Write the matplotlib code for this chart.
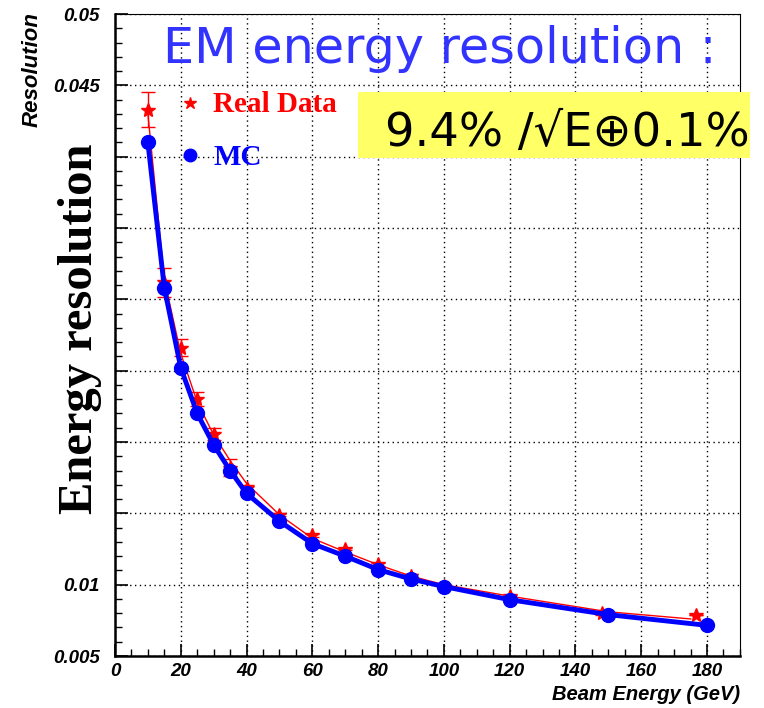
import numpy as np
import matplotlib
matplotlib.use('Agg')
import matplotlib.pyplot as plt
import matplotlib.ticker as ticker
from matplotlib.patches import Rectangle

# beam energies and resolution
mc_energy = [10, 15, 20, 25, 30, 35, 40, 50, 60, 70, 80, 90, 100, 120, 150, 180]
mc_res = [0.0410, 0.0308, 0.0252, 0.0220, 0.0198, 0.0180, 0.0164, 0.01445, 0.01288,
          0.0120, 0.01106, 0.0104, 0.00987, 0.00895, 0.0079, 0.00715]

data_energy = [10, 15, 20, 25, 30, 35, 40, 50, 60, 70, 80, 90, 100, 120, 148, 176.5]
data_res = [0.0433, 0.0312, 0.0266, 0.0230, 0.02055, 0.0182, 0.0168, 0.01492, 0.01346,
            0.0125, 0.01143, 0.01064, 0.0099, 0.0092, 0.0080, 0.00785]
data_err = [0.0012, 0.0010, 0.0006, 0.0005, 0.0004, 0.0006, 0.0002, 0.0001, 0.0001,
            0.0001, 0.0001, 0.0001, 0.0001, 0.0001, 0.0001, 0.0]

# red curve through the data
fit_energy = [10, 15, 20, 25, 30, 35, 40, 50, 60, 70, 80, 90, 100, 120, 150, 175]
fit_res = [0.0430, 0.0314, 0.0262, 0.0228, 0.0205, 0.0187, 0.0171, 0.0149, 0.01325,
           0.0123, 0.0114, 0.0106, 0.0100, 0.0092, 0.0081, 0.0076]

y_labels = {0.005: '0.005', 0.01: '0.01', 0.045: '0.045', 0.05: '0.05'}

fig = plt.figure(figsize=(7.64, 7.08), dpi=100)
ax = fig.add_axes([0.1505, 0.0734, 0.818, 0.9068])

ax.plot(fit_energy, fit_res, color='red', lw=1, zorder=3)
ax.errorbar(data_energy, data_res, yerr=data_err, fmt='none', ecolor='red',
            elinewidth=1, capsize=5, zorder=3)
ax.plot(data_energy, data_res, ls='none', marker='*', ms=10, color='red', zorder=4)
ax.plot(mc_energy, mc_res, color='blue', lw=3.5, marker='o', ms=10, zorder=5)

ax.set_xlim(0, 190)
ax.set_ylim(0.005, 0.05)
ax.xaxis.set_major_locator(ticker.MultipleLocator(20))
ax.xaxis.set_minor_locator(ticker.MultipleLocator(5))
ax.yaxis.set_major_locator(ticker.MultipleLocator(0.005))
ax.yaxis.set_minor_locator(ticker.MultipleLocator(0.001))
ax.xaxis.set_major_formatter(ticker.FuncFormatter(lambda v, p: '%d' % round(v) if v <= 180 else ''))
ax.yaxis.set_major_formatter(ticker.FuncFormatter(
    lambda v, p: y_labels.get(round(v, 3), '')))
ax.tick_params(which='both', direction='in', top=False, right=False)
ax.tick_params(which='major', length=9, width=1.2, labelsize=13.5)
ax.tick_params(axis='y', which='major', pad=11)
ax.tick_params(axis='x', which='major', pad=5)
ax.tick_params(which='minor', length=5, width=1)
for lab in ax.get_xticklabels() + ax.get_yticklabels():
    lab.set_fontweight('bold')
    lab.set_fontstyle('italic')
    lab.set_family('Liberation Sans')

ax.grid(True, which='major', ls=(0, (1, 2.5)), color='black', lw=1)
for side in ['left', 'bottom']:
    ax.spines[side].set_linewidth(1.8)
for side in ['top', 'right']:
    ax.spines[side].set_linewidth(0.8)

ax.set_xlabel('Beam Energy (GeV)', fontsize=14.5, fontweight='bold', fontstyle='italic',
              family='Liberation Sans')
ax.xaxis.set_label_coords(1.0, -0.045)
ax.xaxis.label.set_horizontalalignment('right')

fig.text(0.042, 0.902, 'Resolution', rotation=90, ha='center', va='center', fontsize=16,
         fontweight='bold', fontstyle='italic', family='Liberation Sans')
fig.text(0.105, 0.535, 'Energy resolution', rotation=90, ha='center', va='center',
         fontsize=35, fontweight='bold', family='Liberation Serif')

# title and formula box
fig.text(0.576, 0.911, 'EM energy resolution :', ha='center', va='baseline', fontsize=35.5,
         color='#3333ff')
fig.patches.append(Rectangle((0.4686, 0.7768), 0.513, 0.0932, transform=fig.transFigure,
                             facecolor='#ffff66', edgecolor='none', zorder=6))
fig.text(0.742, 0.794, '9.4% /√E⊕0.1%', ha='center', va='baseline', fontsize=33.5,
         color='black', zorder=7)

# legend drawn by hand
ax.plot([0.2487], [0.8545], transform=fig.transFigure, marker='*', ms=9, color='red',
        ls='none', clip_on=False)
ax.plot([0.2487], [0.781], transform=fig.transFigure, marker='o', ms=9, color='blue',
        ls='none', clip_on=False)
fig.text(0.279, 0.852, 'Real Data', fontsize=21, fontweight='bold', color='red',
         family='Liberation Serif', va='center')
fig.text(0.279, 0.778, 'MC', fontsize=21, fontweight='bold', color='blue',
         family='Liberation Serif', va='center')

fig.savefig('out.png', dpi=100)
